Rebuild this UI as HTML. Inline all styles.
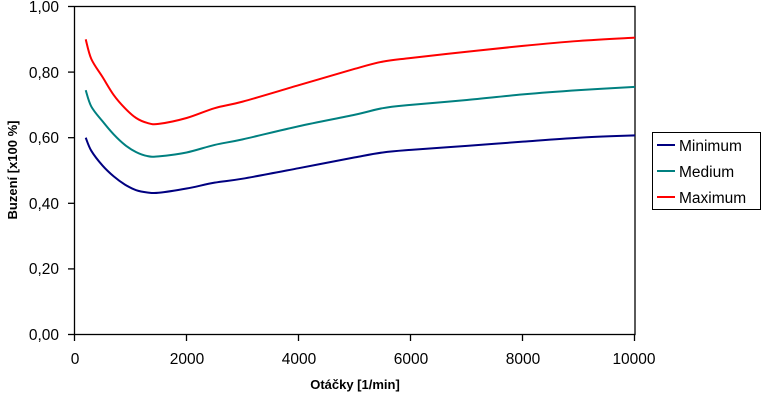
<!DOCTYPE html>
<html><head><meta charset="utf-8"><style>
body{margin:0;background:#fff;width:761px;height:401px;overflow:hidden}
svg{display:block;font-family:"Liberation Sans",Arial,sans-serif}
</style></head><body>
<svg id="s" width="761" height="401" viewBox="0 0 761 401">
<rect x="74.5" y="6.5" width="560.5" height="328" fill="none" stroke="#000" stroke-width="1.3"/>
<g stroke="#000" stroke-width="1.3">
<line x1="68" y1="6.5" x2="74" y2="6.5"/><line x1="68" y1="72.1" x2="74" y2="72.1"/>
<line x1="68" y1="137.7" x2="74" y2="137.7"/><line x1="68" y1="203.3" x2="74" y2="203.3"/>
<line x1="68" y1="268.9" x2="74" y2="268.9"/><line x1="68" y1="334.5" x2="74" y2="334.5"/>
<line x1="74.5" y1="334" x2="74.5" y2="341"/><line x1="186.5" y1="334" x2="186.5" y2="341"/>
<line x1="298.5" y1="334" x2="298.5" y2="341"/><line x1="410.5" y1="334" x2="410.5" y2="341"/>
<line x1="522.5" y1="334" x2="522.5" y2="341"/><line x1="634.5" y1="334" x2="634.5" y2="341"/>
</g>
<g font-size="15.5" text-anchor="end">
<text x="59" y="12">1,00</text><text x="59" y="78">0,80</text><text x="59" y="143">0,60</text>
<text x="59" y="209">0,40</text><text x="59" y="274">0,20</text><text x="59" y="340">0,00</text>
</g>
<g font-size="15.5" text-anchor="middle">
<text x="75" y="364">0</text><text x="187" y="364">2000</text><text x="299" y="364">4000</text>
<text x="411" y="364">6000</text><text x="523" y="364">8000</text><text x="634" y="364">10000</text>
</g>
<text x="355" y="389" font-size="13" font-weight="bold" text-anchor="middle">Otáčky [1/min]</text>
<text transform="translate(17,170) rotate(-90)" font-size="13" font-weight="bold" text-anchor="middle">Buzení [x100 %]</text>
<g id="c" fill="none" stroke-width="2"></g>
<rect x="652.5" y="132.5" width="108" height="77" fill="#fff" stroke="#000" stroke-width="1"/>
<g stroke-width="2"><line x1="657" y1="145" x2="675" y2="145" stroke="#000080"/>
<line x1="657" y1="171" x2="675" y2="171" stroke="#008080"/>
<line x1="657" y1="197" x2="675" y2="197" stroke="#ff0000"/></g>
<g font-size="15.5"><text x="679" y="151">Minimum</text><text x="679" y="177">Medium</text><text x="679" y="203">Maximum</text></g>
</svg>
<script>
var X=[200,300,500,700,900,1100,1300,1500,2000,2500,3000,4000,5000,5500,6000,7000,8000,9000,10000];
var D=[["#ff0000",[.90,.84,.785,.73,.69,.66,.645,.642,.66,.69,.71,.76,.81,.832,.843,.862,.88,.895,.905]],
["#008080",[.745,.695,.65,.61,.578,.556,.544,.543,.555,.578,.595,.635,.67,.69,.70,.715,.732,.745,.755]],
["#000080",[.60,.56,.515,.482,.457,.44,.433,.432,.445,.463,.475,.507,.54,.555,.563,.575,.588,.60,.607]]];
var g=document.getElementById('c');
D.forEach(function(s){var p=X.map(function(x,i){return [74.5+x*0.05605,334.5-s[1][i]*328]});
var d="M"+p[0];for(var i=0;i<p.length-1;i++){var a=p[i-1]||p[i],b=p[i],c=p[i+1],e=p[i+2]||c;
d+=" C"+(b[0]+(c[0]-a[0])/6)+","+(b[1]+(c[1]-a[1])/6)+" "+(c[0]-(e[0]-b[0])/6)+","+(c[1]-(e[1]-b[1])/6)+" "+c;}
var el=document.createElementNS("http://www.w3.org/2000/svg","path");el.setAttribute("d",d);el.setAttribute("stroke",s[0]);g.appendChild(el);});
</script>
</body></html>
